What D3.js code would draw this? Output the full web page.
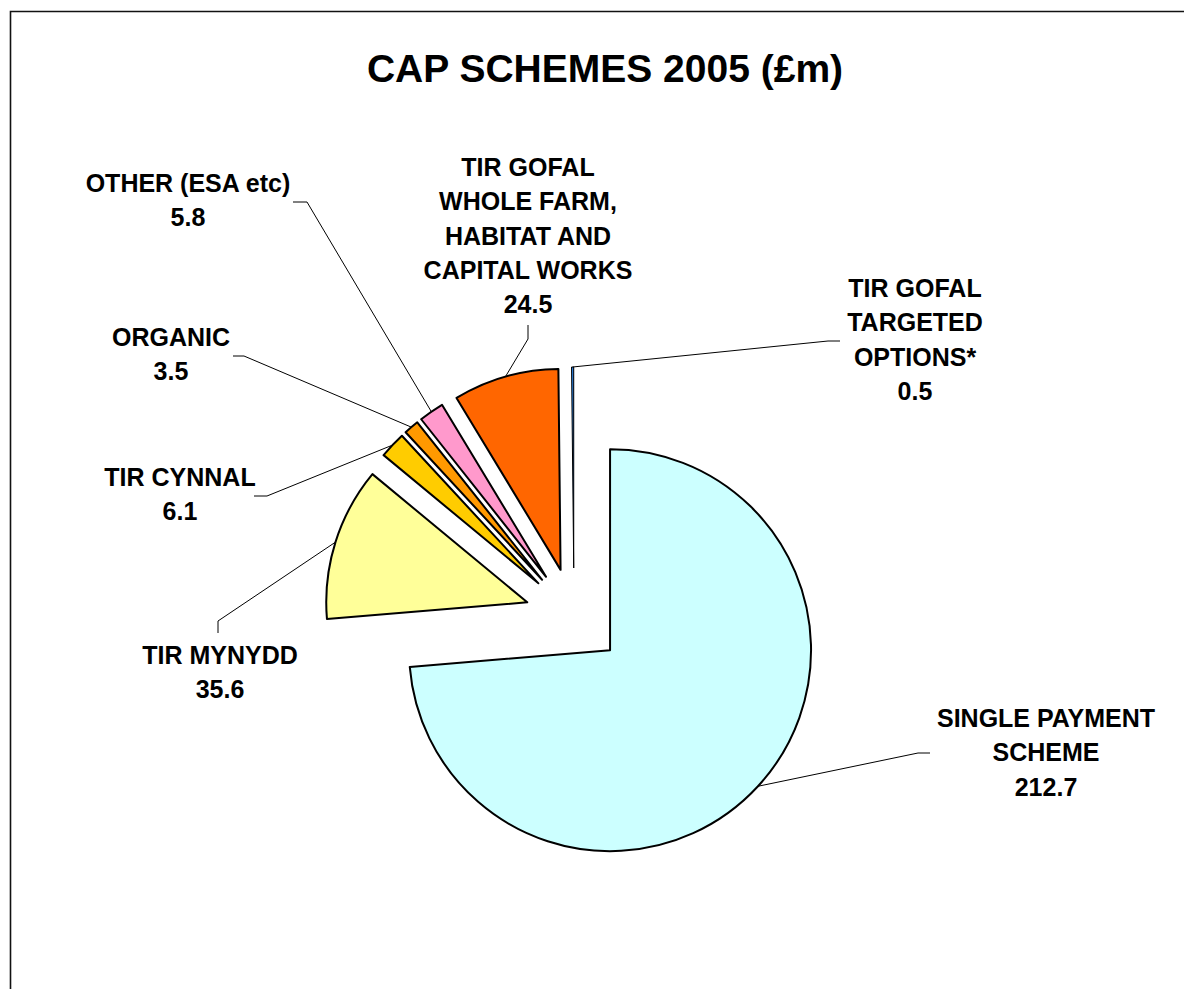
<!DOCTYPE html>
<html>
<head>
<meta charset="utf-8">
<script src="https://cdn.jsdelivr.net/npm/d3@7"></script>
<style>
  html, body { margin: 0; padding: 0; background: #fff; }
  svg { display: block; }
  text { font-family: "Liberation Sans", Arial, sans-serif; font-weight: bold; fill: #000; }
</style>
</head>
<body>
<svg id="chart" width="1184" height="989"></svg>
<script>
// Chart data
const categories = [
  "SINGLE PAYMENT SCHEME",
  "TIR MYNYDD",
  "TIR CYNNAL",
  "ORGANIC",
  "OTHER (ESA etc)",
  "TIR GOFAL WHOLE FARM, HABITAT AND CAPITAL WORKS",
  "TIR GOFAL TARGETED OPTIONS*",
];
const labelLines = [
  ["SINGLE PAYMENT", "SCHEME"],
  ["TIR MYNYDD"],
  ["TIR CYNNAL"],
  ["ORGANIC"],
  ["OTHER (ESA etc)"],
  ["TIR GOFAL", "WHOLE FARM,", "HABITAT AND", "CAPITAL WORKS"],
  ["TIR GOFAL", "TARGETED", "OPTIONS*"],
];
const values = [212.7, 35.6, 6.1, 3.5, 5.8, 24.5, 0.5];
const colors = ["#CCFFFF", "#FFFF99", "#FFCC00", "#FF9900", "#FF99CC", "#FF6600", "url(#blueGrad)"];

// Layout (label anchor: text centre x, first baseline y, stub from/to)
const center = { x: 574, y: 617 };
const radius = 201;
const explode = 49;
const lineGap = 34.3;
const labelLayout = [
  { x: 1046, y: 727, stub: [[930, 753], [918, 753]] },
  { x: 220, y: 664, stub: [[218, 633], [218, 621]] },
  { x: 180, y: 486, stub: [[254, 496], [267, 496]] },
  { x: 171, y: 346, stub: [[233, 356], [244, 356]] },
  { x: 188, y: 192, stub: [[293, 202], [307, 202]] },
  { x: 528, y: 176, stub: [[528, 325], [528, 339]] },
  { x: 915, y: 297, stub: [[840, 341], [828, 341]] },
];

const svg = d3.select("#chart");

const defs = svg.append("defs");
const grad = defs.append("linearGradient")
  .attr("id", "blueGrad")
  .attr("x1", "0%").attr("x2", "100%")
  .attr("y1", "0%").attr("y2", "0%");
grad.append("stop").attr("offset", "0%").attr("stop-color", "#4DA6FF");
grad.append("stop").attr("offset", "100%").attr("stop-color", "#0050B0");

// Chart frame
svg.append("path")
  .attr("d", "M10.5,989 L10.5,11.5 L1184,11.5")
  .attr("fill", "none")
  .attr("stroke", "#111")
  .attr("stroke-width", 1.6);

// Title
svg.append("text")
  .attr("x", 605)
  .attr("y", 82)
  .attr("text-anchor", "middle")
  .attr("font-size", 39)
  .text("CAP SCHEMES 2005 (£m)");

const pie = d3.pie().sort(null).startAngle(0).endAngle(2 * Math.PI);
const arcs = pie(values);
const arc = d3.arc().innerRadius(0).outerRadius(radius);

function offsetOf(d) {
  const mid = (d.startAngle + d.endAngle) / 2;
  return [explode * Math.sin(mid), -explode * Math.cos(mid)];
}

function outerMid(d) {
  const mid = (d.startAngle + d.endAngle) / 2;
  const [ox, oy] = offsetOf(d);
  return [center.x + ox + radius * Math.sin(mid), center.y + oy - radius * Math.cos(mid)];
}

// Slices
svg.append("g")
  .attr("transform", `translate(${center.x}, ${center.y})`)
  .selectAll("path")
  .data(arcs)
  .enter()
  .append("path")
  .attr("transform", (d) => {
    const [ox, oy] = offsetOf(d);
    return `translate(${ox}, ${oy})`;
  })
  .attr("d", arc)
  .attr("fill", (d, i) => colors[i])
  .attr("stroke", "#000")
  // very thin slice keeps a lighter outline so its fill still shows
  .attr("stroke-width", (d) => (d.endAngle - d.startAngle < 0.02 ? 1 : 2))
  .attr("stroke-linejoin", "round");

// Leader lines
const line = d3.line();
svg.append("g")
  .selectAll("path")
  .data(arcs)
  .enter()
  .append("path")
  .attr("d", (d, i) => line([...labelLayout[i].stub, outerMid(d)]))
  .attr("fill", "none")
  .attr("stroke", "#000")
  .attr("stroke-width", 1);

// Labels
const labels = svg.append("g")
  .selectAll("text")
  .data(arcs)
  .enter()
  .append("text")
  .attr("text-anchor", "middle")
  .attr("font-size", 25);

labels.each(function (d, i) {
  const t = d3.select(this);
  const pos = labelLayout[i];
  const lines = [...labelLines[i], String(values[i])];
  lines.forEach((s, k) => {
    t.append("tspan")
      .attr("x", pos.x)
      .attr("y", pos.y + k * lineGap)
      .text(s);
  });
});
</script>
</body>
</html>
